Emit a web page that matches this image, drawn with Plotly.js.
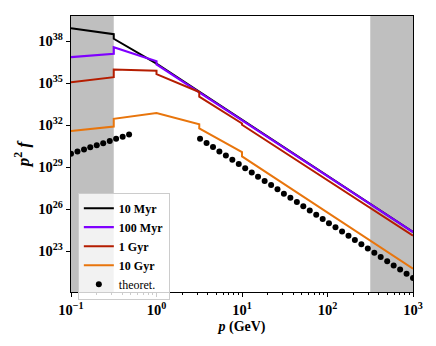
<!DOCTYPE html>
<html>
<head>
<meta charset="utf-8">
<script src="https://cdn.plot.ly/plotly-3.0.1.min.js"></script>
<style>
  body { margin: 0; background: #fff; }
  #chart { width: 436px; height: 346px; }
</style>
</head>
<body>
<div id="chart"></div>
<script>
// spectra p^2 f at bin edges (duplicate p = jump between bins)
const pMyr10 = [0.1, 0.3162, 0.3162, 1, 1000];
const fMyr10 = [8.51e38, 3.16e38, 1.48e38, 2.45e36, 2.29e24];

const pMyr100 = [0.1, 0.3162, 0.3162, 1, 1, 1000];
const fMyr100 = [7.24e36, 1.26e37, 3.72e37, 3.72e36, 2.19e36, 2.29e24];

const pGyr1 = [0.1, 0.3162, 0.3162, 1, 1, 3.162, 3.162, 10, 10, 1000];
const fGyr1 = [1.17e35, 2.69e35, 9.55e35, 7.59e35, 4.37e35, 2.34e34, 1.07e34, 1.32e32, 1.05e32, 1.26e24];

const pGyr10 = [0.1, 0.3162, 0.3162, 1, 3.162, 3.162, 10, 10, 1000];
const fGyr10 = [3.72e31, 7.94e31, 2.82e32, 7.24e32, 1.15e32, 5.75e31, 1.17e30, 5.75e29, 5.5e21];

// theoretical points
const pTheory = [0.100, 0.119, 0.142, 0.168, 0.200, 0.238, 0.284, 0.337, 0.402, 0.478,
  3.23, 3.85, 4.58, 5.44, 6.48, 7.71, 9.17, 10.9, 13.0, 15.4, 18.4, 21.9, 26.0, 30.9,
  36.8, 43.8, 52.1, 62.0, 73.8, 87.8, 104, 124, 148, 176, 209, 249, 296, 353, 419,
  499, 594, 707, 841, 1000];
const fTheory = [9.1e29, 1.29e30, 1.82e30, 2.57e30, 3.63e30, 5.13e30, 7.41e30, 1.05e31, 1.48e31, 2.09e31,
  1.07e31, 5.37e30, 2.69e30, 1.32e30, 6.61e29, 3.31e29, 1.66e29, 8.32e28, 4.07e28, 2.04e28,
  1.02e28, 5.13e27, 2.57e27, 1.26e27, 6.31e26, 3.16e26, 1.58e26, 7.94e25, 3.98e25, 1.95e25,
  9.77e24, 4.90e24, 2.45e24, 1.23e24, 6.03e23, 3.02e23, 1.51e23, 7.59e22, 3.80e22, 1.86e22,
  9.33e21, 4.68e21, 2.34e21, 1.17e21];

const xTicks = [0.1, 1, 10, 100, 1000];
const xTickText = ["10<sup>−1</sup>", "10<sup>0</sup>", "10<sup>1</sup>", "10<sup>2</sup>", "10<sup>3</sup>"];
const yTicks = [1e23, 1e26, 1e29, 1e32, 1e35, 1e38];
const yTickText = ["10<sup>23</sup>", "10<sup>26</sup>", "10<sup>29</sup>", "10<sup>32</sup>", "10<sup>35</sup>", "10<sup>38</sup>"];

// shaded momentum ranges
const shadeLow = [0.1, 0.3162];
const shadeHigh = [316.2, 1000];

let minorTicks = [];
for (let d = -1; d < 3; d++) {
  for (let k = 2; k <= 9; k++) minorTicks.push(k * Math.pow(10, d));
}

const serif = "Liberation Serif, DejaVu Serif, serif";

let traces = [
  { x: pMyr10, y: fMyr10, name: "<b>10 Myr</b>", mode: "lines", line: { color: "#000000", width: 2 } },
  { x: pMyr100, y: fMyr100, name: "<b>100 Myr</b>", mode: "lines", line: { color: "#7f00ff", width: 2.2 } },
  { x: pGyr1, y: fGyr1, name: "<b>1 Gyr</b>", mode: "lines", line: { color: "#b51d00", width: 2 } },
  { x: pGyr10, y: fGyr10, name: "<b>10 Gyr</b>", mode: "lines", line: { color: "#e8750c", width: 2 } },
  { x: pTheory, y: fTheory, name: "theoret.", mode: "markers", marker: { color: "#000000", size: 6 } },
];

let layout = {
  width: 436,
  height: 346,
  margin: { l: 71, r: 23, t: 16, b: 54 },
  paper_bgcolor: "#ffffff",
  plot_bgcolor: "#ffffff",
  font: { family: serif, size: 13, color: "#000000" },
  showlegend: true,
  legend: {
    x: 0.02, y: 0.36, xanchor: "left", yanchor: "top",
    bgcolor: "rgba(255,255,255,0.8)",
    bordercolor: "#cccccc", borderwidth: 1,
    font: { family: serif, size: 12 },
    tracegroupgap: 0,
    itemwidth: 30,
  },
  xaxis: {
    type: "log",
    range: [-1, 3],
    tickvals: xTicks,
    ticktext: xTickText,
    ticks: "outside", ticklen: 4, tickwidth: 1, tickcolor: "#000",
    minor: { tickvals: minorTicks, ticks: "outside", ticklen: 2, tickcolor: "#000", showgrid: false },
    tickfont: { family: serif, size: 14.5, weight: "bold" },
    showgrid: false, zeroline: false,
    showline: true, linecolor: "#000", linewidth: 1.3, mirror: true,
    title: { text: "<b><i>p</i> (GeV)</b>", font: { family: serif, size: 14 }, standoff: 4 },
  },
  yaxis: {
    type: "log",
    range: [20.07, 39.8],
    tickvals: yTicks,
    ticktext: yTickText,
    ticks: "outside", ticklen: 4, tickwidth: 1, tickcolor: "#000",
    tickfont: { family: serif, size: 14.5, weight: "bold" },
    showgrid: false, zeroline: false,
    showline: true, linecolor: "#000", linewidth: 1.3, mirror: true,
    title: { text: "<b><i>p</i><sup>2</sup> <i>f</i></b>", font: { family: serif, size: 17 }, standoff: 4 },
  },
  shapes: [
    { type: "rect", xref: "x", yref: "paper", x0: shadeLow[0], x1: shadeLow[1], y0: 0, y1: 1,
      fillcolor: "#bfbfbf", line: { width: 0 }, layer: "below" },
    { type: "rect", xref: "x", yref: "paper", x0: shadeHigh[0], x1: shadeHigh[1], y0: 0, y1: 1,
      fillcolor: "#bfbfbf", line: { width: 0 }, layer: "below" },
  ],
};

Plotly.newPlot("chart", traces, layout, { staticPlot: true, displayModeBar: false });
</script>
</body>
</html>
